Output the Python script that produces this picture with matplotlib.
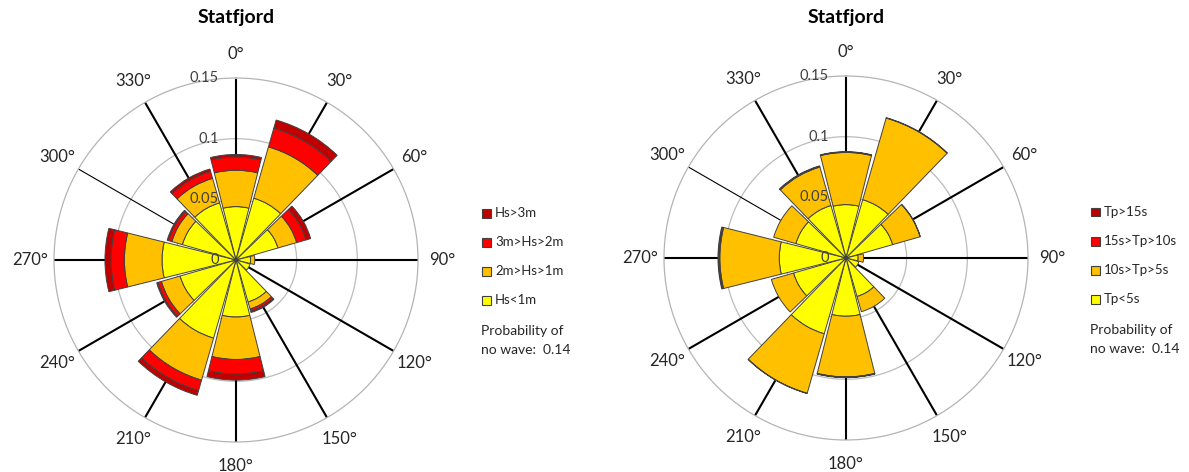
import numpy as np
import matplotlib
matplotlib.use("Agg")
import matplotlib.pyplot as plt
from matplotlib.patches import Rectangle
from matplotlib.transforms import offset_copy

plt.rcParams['font.family'] = ['Lato', 'DejaVu Sans']

# wave direction sectors (compass degrees, clockwise from north)
directions = [0, 30, 60, 90, 120, 150, 180, 210, 240, 270, 300, 330]

# probability per sector for each significant wave height class
hs_lt1 = [0.044, 0.053, 0.036, 0.012, 0.012, 0.036, 0.047, 0.067, 0.048, 0.061, 0.046, 0.049]
hs_1_2 = [0.030, 0.044, 0.016, 0.0035, 0.0, 0.006, 0.035, 0.036, 0.016, 0.031, 0.009, 0.021]
hs_2_3 = [0.011, 0.016, 0.008, 0.0, 0.0, 0.002, 0.012, 0.009, 0.003, 0.011, 0.003, 0.006]
hs_gt3 = [0.002, 0.007, 0.004, 0.0, 0.0, 0.001, 0.005, 0.004, 0.001, 0.005, 0.001, 0.002]

# probability per sector for each peak period class
tp_lt5 = [0.044, 0.050, 0.040, 0.010, 0.011, 0.033, 0.048, 0.065, 0.045, 0.055, 0.043, 0.045]
tp_5_10 = [0.043, 0.070, 0.0235, 0.0045, 0.0, 0.013, 0.050, 0.051, 0.019, 0.049, 0.019, 0.033]
tp_10_15 = [0.0003, 0.0, 0.0, 0.0, 0.0, 0.0, 0.0003, 0.0, 0.0, 0.0007, 0.0, 0.0005]
tp_gt15 = [0.0003, 0.0003, 0.0002, 0.0, 0.0, 0.0, 0.0003, 0.0002, 0.0, 0.0008, 0.0, 0.0005]

hs_labels = ['Hs>3m', '3m>Hs>2m', '2m>Hs>1m', 'Hs<1m']
tp_labels = ['Tp>15s', '15s>Tp>10s', '10s>Tp>5s', 'Tp<5s']
no_wave = 0.14
site = 'Statfjord'

colors = ['#FFFF00', '#FFC000', '#FF0000', '#C00000']  # low -> high class
radial_ticks = [0, 0.05, 0.1, 0.15]
radial_labels = ['0', '0.05', '0.1', '0.15']

W, H = 1189, 472
fig = plt.figure(figsize=(W / 100, H / 100), dpi=100)


def px(x, y):
    return x / W, 1 - y / H


def rose(cx, cy, classes, names, legend_x, legend_y):
    R = 182
    ax = fig.add_axes([(cx - R) / W, (H - cy - R) / H, 2 * R / W, 2 * R / H],
                      projection='polar')
    ax.set_theta_zero_location('N')
    ax.set_theta_direction(-1)
    ax.set_ylim(0, 0.15)
    ax.grid(False)
    ax.set_xticks([])
    ax.set_yticks([])
    ax.spines['polar'].set_color('#b4b4b4')
    ax.spines['polar'].set_linewidth(0.9)

    th = np.radians(directions)
    circ = np.linspace(0, 2 * np.pi, 361)
    for r in radial_ticks[1:-1]:
        ax.plot(circ, np.full_like(circ, r), color='#bcbcbc', lw=0.9, zorder=0.5)
    for d, t in zip(directions, th):
        ax.plot([t, t], [0, 0.15], color='black', lw=0.8 if d == 300 else 1.5, zorder=1)

    bottom = np.zeros(len(directions))
    for vals, c in zip(classes, colors):
        vals = np.array(vals)
        m = vals > 0
        ax.bar(th[m], vals[m], width=np.radians(28), bottom=bottom[m], color=c,
               edgecolor='#404040', linewidth=0.7, zorder=2)
        bottom += vals

    # radial scale written next to the north spoke
    tr = offset_copy(ax.transData, fig=fig, x=-17, y=0, units='dots')
    for r, lab in zip(radial_ticks, radial_labels):
        ax.text(0, r, lab, transform=tr, ha='right', va='center',
                fontsize=10.5, color='#404040', zorder=5)

    for d, t in zip(directions, th):
        ax.text(t, 0.17, f'{d}°', ha='center', va='center', fontsize=12,
                color='#262626', clip_on=False)

    fig.text(*px(cx, 18), site, ha='center', va='center', fontsize=14,
             fontweight='bold')

    # legend, highest class on top
    for i, (name, c) in enumerate(zip(names, colors[::-1])):
        y = legend_y + i * 29
        x0, y0 = px(legend_x, y + 4.5)
        fig.add_artist(Rectangle((x0, y0), 9 / W, 9 / H, transform=fig.transFigure,
                                 facecolor=c, edgecolor='#404040', linewidth=0.8))
        fig.text(*px(legend_x + 13, y), name, ha='left', va='center', fontsize=9.5,
                 color='#262626')
    fig.text(*px(legend_x - 1, legend_y + 118), 'Probability of', ha='left',
             va='center', fontsize=10, color='#262626')
    fig.text(*px(legend_x - 1, legend_y + 137), f'no wave:  {no_wave}', ha='left',
             va='center', fontsize=10, color='#262626')


rose(236, 260, [hs_lt1, hs_1_2, hs_2_3, hs_gt3], hs_labels, 482, 213)
rose(846, 258, [tp_lt5, tp_5_10, tp_10_15, tp_gt15], tp_labels, 1091, 212)

fig.savefig('out.png', dpi=100, facecolor='white')
